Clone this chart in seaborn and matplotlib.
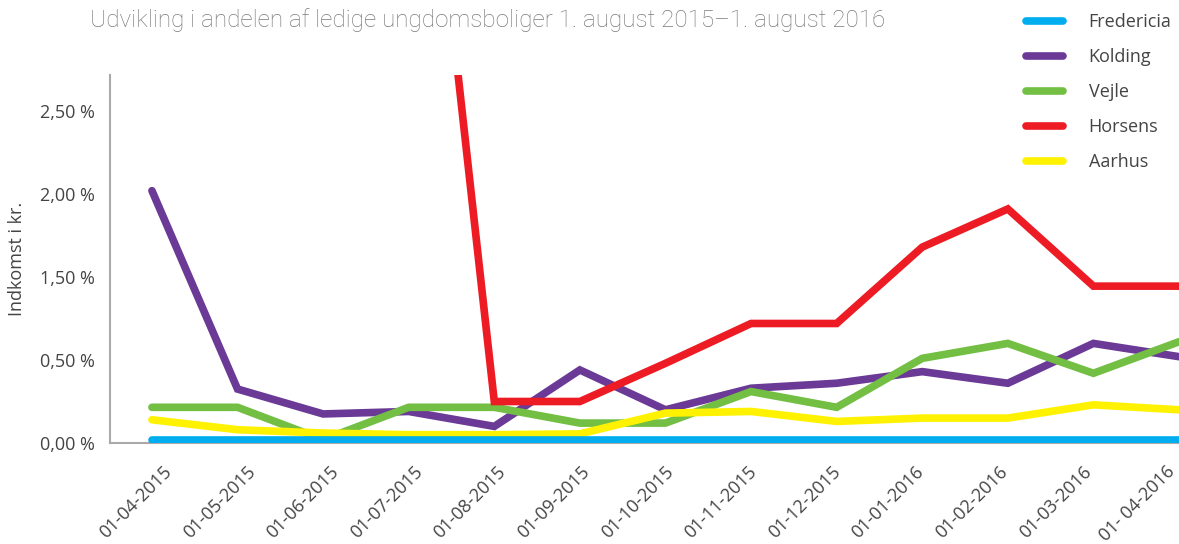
import matplotlib
matplotlib.use("Agg")
import matplotlib.pyplot as plt
import matplotlib.transforms as mtransforms
from matplotlib.lines import Line2D
import numpy as np
import pandas as pd
import seaborn as sns

# ---- data ----
dates = ["01-04-2015", "01-05-2015", "01-06-2015", "01-07-2015", "01-08-2015",
         "01-09-2015", "01-10-2015", "01-11-2015", "01-12-2015", "01-01-2016",
         "01-02-2016", "01-03-2016", "01- 04-2016"]
fredericia = [0.02, 0.02, 0.02, 0.02, 0.02, 0.02, 0.02, 0.02, 0.02, 0.02, 0.02, 0.02, 0.02]
kolding = [1.52, 0.325, 0.175, 0.19, 0.10, 0.44, 0.20, 0.33, 0.36, 0.43, 0.36, 0.60, 0.52]
vejle = [0.215, 0.215, 0.02, 0.215, 0.215, 0.12, 0.12, 0.31, 0.215, 0.51, 0.60, 0.42, 0.61]
horsens = [np.nan, np.nan, np.nan, 4.9, 0.25, 0.25, 0.48, 0.72, 0.72, 1.18, 1.41, 0.945, 0.945]
aarhus = [0.14, 0.08, 0.06, 0.05, 0.05, 0.055, 0.18, 0.19, 0.13, 0.15, 0.15, 0.23, 0.20]

series_names = ["Fredericia", "Kolding", "Vejle", "Horsens", "Aarhus"]
series_values = [fredericia, kolding, vejle, horsens, aarhus]
colors = ["#00AEEF", "#6A3A96", "#72BF44", "#ED1C24", "#FFF200"]
ytick_vals = [0.0, 0.5, 1.0, 1.5, 2.0]
ytick_labels = ["0,00 %", "0,50 %", "1,50 %", "2,00 %", "2,50 %"]
title = "Udvikling i andelen af ledige ungdomsboliger 1. august 2015\u20131. august 2016"
ylabel = "Indkomst i kr."

rows = []
for name, vals in zip(series_names, series_values):
    for i, v in enumerate(vals):
        rows.append({"idx": i, "value": v, "by": name})
df = pd.DataFrame(rows)

sns.set_theme(style="white")
plt.rcParams["font.family"] = ["Open Sans", "DejaVu Sans"]

fig = plt.figure(figsize=(11.79, 5.44), dpi=100)
ax = fig.add_axes([110 / 1179, 1 - 443 / 544, 1 - 110 / 1179, (443 - 75) / 544])

palette = dict(zip(series_names, colors))
sns.lineplot(data=df, x="idx", y="value", hue="by", hue_order=series_names,
             palette=palette, linewidth=5.5, ax=ax, legend=False, sort=False,
             estimator=None)

zorders = {"Fredericia": 7, "Kolding": 3, "Vejle": 4, "Horsens": 5, "Aarhus": 6}
for line, name in zip(ax.lines, series_names):
    line.set_zorder(zorders[name])
    line.set_solid_capstyle("round")
    line.set_solid_joinstyle("miter")

ax.set_xlim(-0.49, 12.0)
ax.set_ylim(0, 2.217)
ax.tick_params(axis="x", length=0, pad=0)
ax.tick_params(axis="y", length=0, pad=11)
ax.set_yticks(ytick_vals)
ax.set_yticklabels(ytick_labels, fontsize=13, color="#444444")
ax.set_xticks(range(len(dates)))
ax.set_xticklabels(dates, rotation=45, ha="right", va="center",
                   rotation_mode="anchor", fontsize=13, color="#444444")
for i, lab in enumerate(ax.get_xticklabels()):
    dx = 17 - 2.0 * i
    offset = mtransforms.ScaledTranslation(dx / 100, -26 / 100, fig.dpi_scale_trans)
    lab.set_transform(lab.get_transform() + offset)
ax.set_xlabel("")
ax.set_ylabel(ylabel, fontsize=13, color="#444444", labelpad=10)

for s in ["top", "right"]:
    ax.spines[s].set_visible(False)
for s in ["left", "bottom"]:
    ax.spines[s].set_color("#aaaaaa")
    ax.spines[s].set_linewidth(1.5)

fig.text(90 / 1179, 1 - 20 / 544, title, fontsize=17.5, color="#7a7a7a",
         va="center", ha="left", family=["Roboto", "DejaVu Sans"], fontweight="light")

handles = [Line2D([], [], color=c, linewidth=5.5, solid_capstyle="round") for c in colors]
leg = fig.legend(handles, series_names, loc="upper left",
                 bbox_to_anchor=(1019 / 1179, 1 - 6 / 544), frameon=False,
                 fontsize=13, handlelength=2.05, handletextpad=1.4,
                 labelspacing=0.94, borderaxespad=0)
for t in leg.get_texts():
    t.set_color("#444444")

fig.savefig("out.png", dpi=100)
